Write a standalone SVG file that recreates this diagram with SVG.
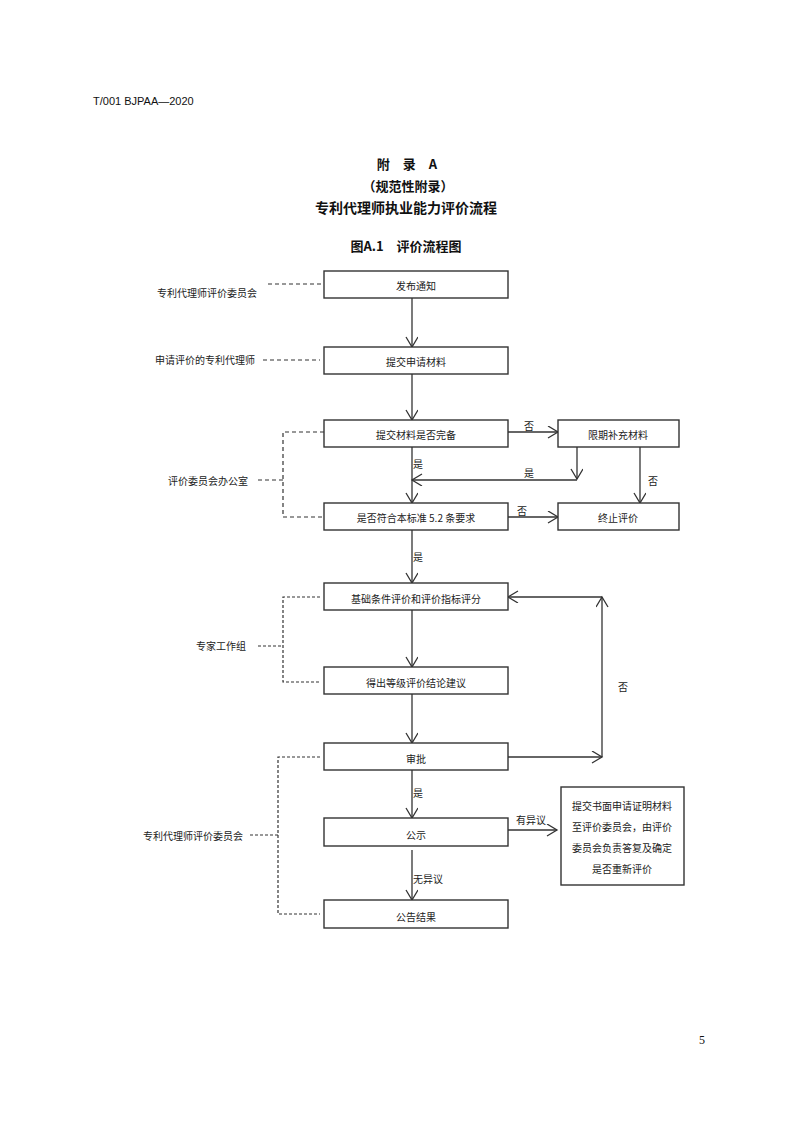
<svg xmlns="http://www.w3.org/2000/svg" width="793" height="1122" viewBox="0 0 793 1122">
<style>
.bg{fill:#ffffff}
.box{fill:#ffffff;stroke:#333;stroke-width:1.4}
.t{font-family:"Noto Sans CJK SC","Liberation Sans",sans-serif;font-size:10px;fill:#222;text-anchor:middle;dominant-baseline:central}
.lt{font-family:"Noto Sans CJK SC","Liberation Sans",sans-serif;font-size:10px;fill:#222;text-anchor:start;dominant-baseline:central}
.h{font-family:"Noto Sans CJK SC","Liberation Sans",sans-serif;font-weight:bold;fill:#111;text-anchor:middle;dominant-baseline:central}
.ln{fill:none;stroke:#333;stroke-width:1.3}
.dash{fill:none;stroke:#333;stroke-width:1.2;stroke-dasharray:4,3}
.dot{fill:none;stroke:#333;stroke-width:1.2;stroke-dasharray:3,2}
</style>
<defs>
<marker id="arr" markerUnits="userSpaceOnUse" markerWidth="14" markerHeight="14" refX="11" refY="6" orient="auto">
<path d="M1,0 L11,6 L1,12" fill="none" stroke="#333" stroke-width="1.3"/>
</marker>
</defs>
<rect class="bg" x="0" y="0" width="793" height="1122"/>

<g id="header">
<text x="93" y="101" style="font-family:'Liberation Sans',sans-serif;font-size:11px;fill:#111" dominant-baseline="central">T/001 BJPAA—2020</text>
<text class="h" x="407" y="163" style="font-size:13px">附　录　A</text>
<text class="h" x="408" y="185" style="font-size:13px">（规范性附录）</text>
<text class="h" x="406" y="207" style="font-size:14px">专利代理师执业能力评价流程</text>
<text class="h" x="406" y="245" style="font-size:13px">图A.1　评价流程图</text>
<text x="702" y="1040" style="font-family:'Liberation Serif',serif;font-size:12px;fill:#111" text-anchor="middle" dominant-baseline="central">5</text>
</g>

<g id="connectors">
<line class="ln" x1="412" y1="298" x2="412" y2="347" marker-end="url(#arr)"/>
<line class="ln" x1="412" y1="374" x2="412" y2="420" marker-end="url(#arr)"/>
<line class="ln" x1="412" y1="447" x2="412" y2="503" marker-end="url(#arr)"/>
<line class="ln" x1="412" y1="530" x2="412" y2="583" marker-end="url(#arr)"/>
<line class="ln" x1="412" y1="610" x2="412" y2="667" marker-end="url(#arr)"/>
<line class="ln" x1="412" y1="694" x2="412" y2="743" marker-end="url(#arr)"/>
<line class="ln" x1="412" y1="770" x2="412" y2="818" marker-end="url(#arr)"/>
<line class="ln" x1="412" y1="850" x2="412" y2="900" marker-end="url(#arr)"/>
<line class="ln" x1="508" y1="432" x2="558" y2="432" marker-end="url(#arr)"/>
<line class="ln" x1="577" y1="447" x2="577" y2="479" marker-end="url(#arr)"/>
<line class="ln" x1="577" y1="480" x2="412" y2="480" marker-end="url(#arr)"/>
<line class="ln" x1="640" y1="447" x2="640" y2="503" marker-end="url(#arr)"/>
<line class="ln" x1="508" y1="517" x2="558" y2="517" marker-end="url(#arr)"/>
<line class="ln" x1="508" y1="757" x2="602" y2="757" marker-end="url(#arr)"/>
<line class="ln" x1="602" y1="757" x2="602" y2="597" marker-end="url(#arr)"/>
<line class="ln" x1="602" y1="597" x2="508" y2="597" marker-end="url(#arr)"/>
<line class="ln" x1="508" y1="830" x2="557" y2="830" marker-end="url(#arr)"/>

<polyline class="dash" points="268,284 324,284"/>
<polyline class="dash" points="263,360 320,360"/>
<polyline class="dash" points="258,480 283,480"/>
<polyline class="dash" points="324,432 283,432 283,517 324,517"/>
<polyline class="dot" points="258,646 283,646"/>
<polyline class="dot" points="320,597 283,597 283,682 320,682"/>
<polyline class="dot" points="250,835 278,835"/>
<polyline class="dot" points="320,757 278,757 278,914 320,914"/>

<text class="t" x="418" y="463">是</text>
<text class="t" x="529" y="425">否</text>
<text class="t" x="529" y="472">是</text>
<text class="t" x="653" y="480">否</text>
<text class="t" x="522" y="510">否</text>
<text class="t" x="418" y="556">是</text>
<text class="t" x="623" y="686">否</text>
<text class="t" x="418" y="792">是</text>
<text class="t" x="531" y="819">有异议</text>
<text class="t" x="428" y="878">无异议</text>
</g>

<g id="lbl1"><text class="lt" x="157" y="292">专利代理师评价委员会</text></g>
<g id="lbl2"><text class="lt" x="155" y="359">申请评价的专利代理师</text></g>
<g id="lbl3"><text class="lt" x="168" y="480">评价委员会办公室</text></g>
<g id="lbl4"><text class="lt" x="196" y="645">专家工作组</text></g>
<g id="lbl5"><text class="lt" x="143" y="835">专利代理师评价委员会</text></g>

<g id="n1"><rect class="box" x="324" y="271" width="184" height="27"/><text class="t" x="416" y="285">发布通知</text></g>
<g id="n2"><rect class="box" x="324" y="347" width="184" height="27"/><text class="t" x="416" y="361">提交申请材料</text></g>
<g id="n3"><rect class="box" x="324" y="420" width="184" height="27"/><text class="t" x="416" y="434">提交材料是否完备</text></g>
<g id="n3b"><rect class="box" x="558" y="420" width="121" height="27"/><text class="t" x="618" y="434">限期补充材料</text></g>
<g id="n4"><rect class="box" x="324" y="503" width="184" height="27"/><text class="t" x="416" y="517">是否符合本标准 5.2 条要求</text></g>
<g id="n4b"><rect class="box" x="558" y="503" width="121" height="27"/><text class="t" x="618" y="517">终止评价</text></g>
<g id="n5"><rect class="box" x="324" y="583" width="184" height="27"/><text class="t" x="416" y="598">基础条件评价和评价指标评分</text></g>
<g id="n6"><rect class="box" x="324" y="667" width="184" height="27"/><text class="t" x="416" y="682">得出等级评价结论建议</text></g>
<g id="n7"><rect class="box" x="324" y="743" width="184" height="27"/><text class="t" x="416" y="758">审批</text></g>
<g id="n8"><rect class="box" x="324" y="818" width="184" height="28"/><text class="t" x="416" y="834">公示</text></g>
<g id="n9"><rect class="box" x="324" y="900" width="184" height="28"/><text class="t" x="416" y="916">公告结果</text></g>
<g id="n10"><rect class="box" x="561" y="787" width="123" height="98"/>
<text class="t" x="622" y="805">提交书面申请证明材料</text>
<text class="t" x="622" y="826">至评价委员会，由评价</text>
<text class="t" x="622" y="847">委员会负责答复及确定</text>
<text class="t" x="622" y="868">是否重新评价</text>
</g>
</svg>
